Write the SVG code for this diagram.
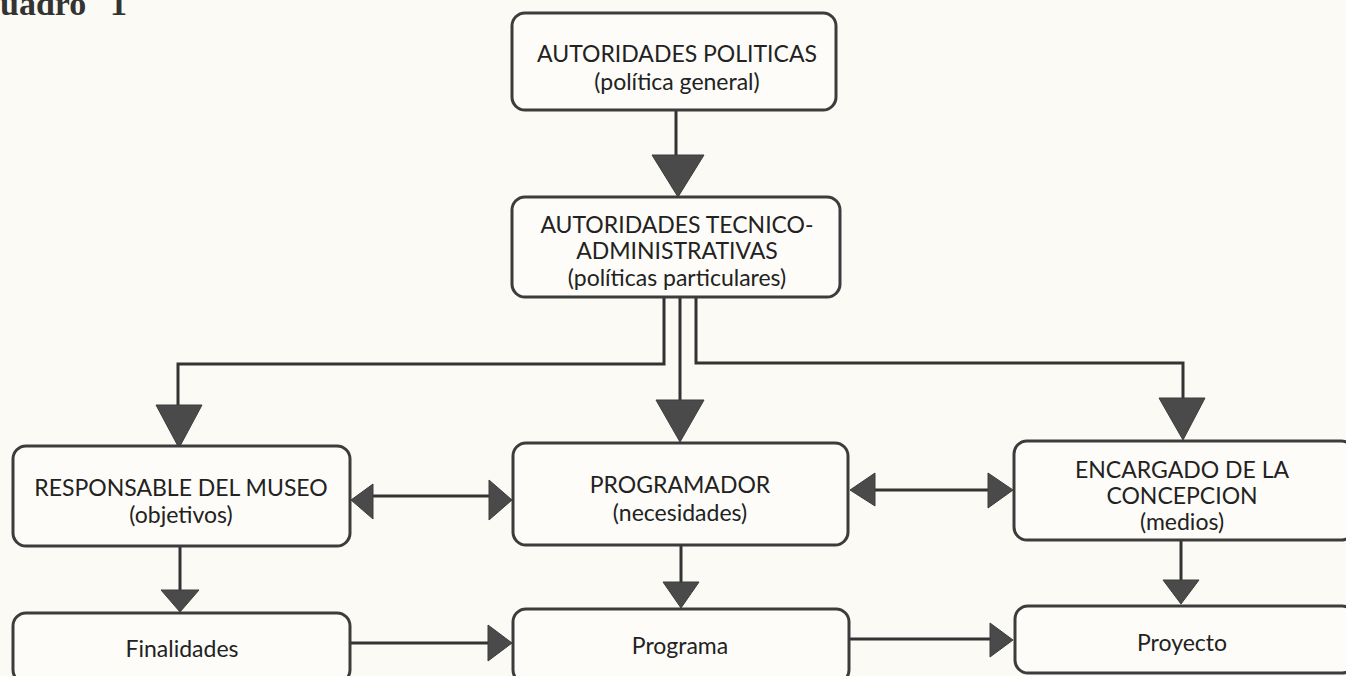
<svg xmlns="http://www.w3.org/2000/svg" width="1346" height="676" viewBox="0 0 1346 676">
<style>
.box{fill:#fdfcf8;stroke:#3c3c3c;stroke-width:3}
.t{font-family:Lato,"Liberation Sans",sans-serif;font-size:23px;fill:#222;text-anchor:middle}
.ln{fill:none;stroke:#333;stroke-width:3}
.ah{fill:#4a4a4a;stroke:#3c3c3c;stroke-width:1}
.title{font-family:"Liberation Serif",serif;font-weight:bold;font-size:34px;fill:#333}
</style>
<rect x="0" y="0" width="1346" height="676" fill="#fbfaf5"/>
<text class="title" x="0" y="15">uadro<tspan x="110">1</tspan></text>

<g id="connectors">
  <path class="ln" d="M676 110 V157"/>
  <polygon class="ah" points="652,155 704,155 678,197"/>
  <path class="ln" d="M664 297 V364 H178 V407"/>
  <polygon class="ah" points="156,405 202,405 179,448"/>
  <path class="ln" d="M680 297 V402"/>
  <polygon class="ah" points="656,400 704,400 680,442"/>
  <path class="ln" d="M696 297 V363 H1183 V400"/>
  <polygon class="ah" points="1159,398 1205,398 1183,440"/>

  <path class="ln" d="M372 496 H490"/>
  <polygon class="ah" points="351,500 373,484 373,519"/>
  <polygon class="ah" points="512,500 489,480 489,520"/>
  <path class="ln" d="M873 490 H990"/>
  <polygon class="ah" points="850,490 875,473 875,506"/>
  <polygon class="ah" points="1013,490 988,473 988,508"/>

  <path class="ln" d="M180 546 V591"/>
  <polygon class="ah" points="161,590 199,590 180,612"/>
  <path class="ln" d="M681 545 V583"/>
  <polygon class="ah" points="663,582 699,582 681,608"/>
  <path class="ln" d="M1181 540 V581"/>
  <polygon class="ah" points="1163,580 1199,580 1181,604"/>

  <path class="ln" d="M350 643 H490"/>
  <polygon class="ah" points="512,643 488,625 488,661"/>
  <path class="ln" d="M849 639 H991"/>
  <polygon class="ah" points="1013,640 990,623 990,657"/>
</g>

<g id="n-politicas">
  <rect class="box" x="512" y="13" width="324" height="97" rx="13"/>
  <text class="t" x="677" y="62">AUTORIDADES POLITICAS</text>
  <text class="t" x="677" y="90">(política general)</text>
</g>
<g id="n-tecnico">
  <rect class="box" x="512" y="197" width="328" height="100" rx="13"/>
  <text class="t" x="677" y="233">AUTORIDADES TECNICO-</text>
  <text class="t" x="677" y="259">ADMINISTRATIVAS</text>
  <text class="t" x="677" y="286">(políticas particulares)</text>
</g>
<g id="n-responsable">
  <rect class="box" x="13" y="446" width="337" height="100" rx="13"/>
  <text class="t" x="181" y="496">RESPONSABLE DEL MUSEO</text>
  <text class="t" x="181" y="523">(objetivos)</text>
</g>
<g id="n-programador">
  <rect class="box" x="513" y="443" width="335" height="102" rx="13"/>
  <text class="t" x="680" y="493">PROGRAMADOR</text>
  <text class="t" x="680" y="521">(necesidades)</text>
</g>
<g id="n-encargado">
  <rect class="box" x="1014" y="441" width="340" height="99" rx="13"/>
  <text class="t" x="1182" y="478">ENCARGADO DE LA</text>
  <text class="t" x="1182" y="504">CONCEPCION</text>
  <text class="t" x="1182" y="530">(medios)</text>
</g>
<g id="n-finalidades">
  <rect class="box" x="13" y="613" width="337" height="70" rx="13"/>
  <text class="t" x="182" y="657">Finalidades</text>
</g>
<g id="n-programa">
  <rect class="box" x="513" y="609" width="336" height="74" rx="13"/>
  <text class="t" x="680" y="654">Programa</text>
</g>
<g id="n-proyecto">
  <rect class="box" x="1015" y="606" width="340" height="67" rx="13"/>
  <text class="t" x="1182" y="651">Proyecto</text>
</g>
</svg>
